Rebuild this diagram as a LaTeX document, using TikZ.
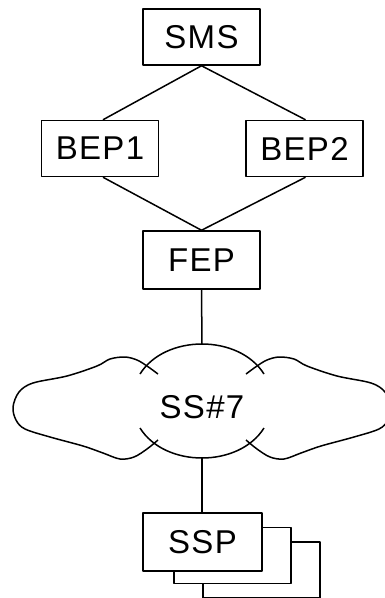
\documentclass[tikz,border=0pt]{standalone}
\usepackage{fontspec}
\setmainfont[LetterSpace=4]{Liberation Sans}
\begin{document}
\begin{tikzpicture}[x=1pt,y=-1pt,
  line width=1.5pt, line join=round,
  box/.style={draw, fill=white, minimum width=117pt, minimum height=56pt, inner sep=0pt,
    font=\fontsize{33}{33}\selectfont},
  backbox/.style={draw, fill=white, minimum width=117pt, minimum height=56pt, inner sep=0pt},
  lbl/.style={font=\fontsize{33}{33}\selectfont, inner sep=0pt}]
\useasboundingbox (0,0) rectangle (385,598);
\clip (0,0) rectangle (385,598);
% boxes
\node[box] (sms) at (201.5,37) {SMS};
\node[box] (bep1) at (100,148.5) {BEP1};
\node[box] (bep2) at (304.5,148.5) {BEP2};
\node[box, minimum height=58pt] (fep) at (201.5,260) {FEP};
% stacked SSP
\node[backbox] (ssp3) at (261.5,570) {};
\node[backbox] (ssp2) at (232.5,555.5) {};
\node[box, minimum width=119pt, minimum height=58pt] (ssp) at (202.5,542) {SSP};
% cloud
\coordinate (cltop) at (202,344);
\coordinate (clbot) at (202,457);
\draw (140,374) .. controls (165,334) and (239,334) .. (264,374);
\draw (140,428) .. controls (165,468) and (239,468) .. (264,428);
\draw plot[smooth, tension=0.55] coordinates {(158,374) (147,366) (137,360) (125,357) (110,359) (97,366) (67,376) (33,383) (19,392) (13,407) (16,420) (25,429) (50,437) (83,446) (103,453) (120,459) (134,457) (147,449) (158,440)};
\draw plot[smooth, tension=0.55] coordinates {(246,374) (257,366) (267,360) (279,357) (294,359) (307,366) (337,376) (371,383) (385,392) (391,407) (388,420) (379,429) (354,437) (321,446) (301,453) (284,459) (270,457) (257,449) (246,440)};
\node[lbl] (ss7) at (202,407) {SS\#7};
% connectors
\draw (sms.south) -- ([xshift=3pt]bep1.north);
\draw (sms.south) -- ([xshift=1pt]bep2.north);
\draw ([xshift=3pt]bep1.south) -- (fep.north);
\draw ([xshift=1pt]bep2.south) -- (fep.north);
\draw (fep.south) -- (cltop);
\draw (clbot) -- ([xshift=-0.5pt]ssp.north);
\end{tikzpicture}
\end{document}
